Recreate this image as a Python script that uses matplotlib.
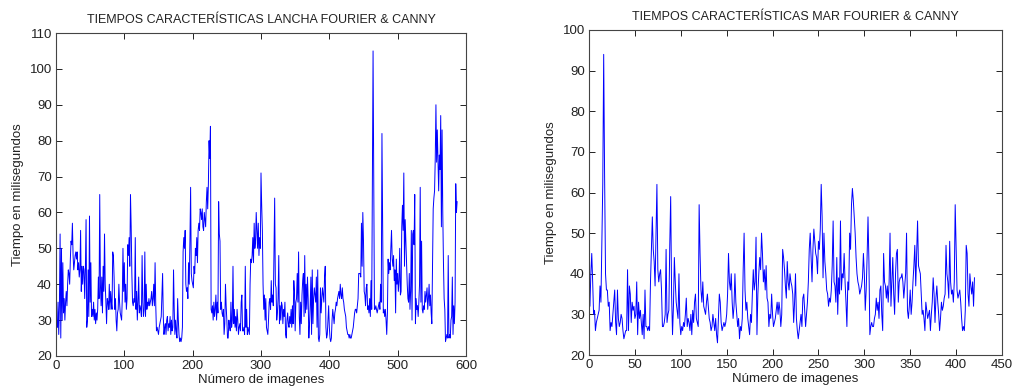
import matplotlib
matplotlib.use("Agg")
import matplotlib.pyplot as plt
import numpy as np

plt.rcParams['font.family'] = ['Liberation Sans', 'DejaVu Sans']

lancha_ms = [
    27, 30, 28, 35, 26, 34, 54, 25, 50, 30,
    46, 32, 36, 30, 35, 38, 34, 40, 44, 43,
    40, 47, 52, 51, 57, 48, 44, 46, 48, 49,
    47, 49, 44, 46, 42, 44, 55, 38, 45, 40,
    45, 44, 36, 44, 58, 28, 30, 44, 31, 59,
    35, 46, 31, 33, 31, 35, 30, 33, 29, 32,
    30, 33, 42, 36, 65, 40, 34, 42, 32, 45,
    38, 54, 40, 35, 29, 36, 35, 33, 40, 33,
    38, 35, 33, 49, 48, 42, 33, 36, 30, 27,
    32, 33, 40, 35, 32, 31, 30, 36, 50, 38,
    46, 35, 40, 33, 36, 51, 48, 53, 45, 65,
    56, 43, 35, 34, 36, 35, 53, 33, 38, 30,
    35, 42, 32, 34, 33, 31, 48, 35, 31, 33,
    49, 31, 40, 33, 35, 34, 36, 34, 35, 36,
    38, 34, 36, 40, 34, 46, 34, 27, 28, 27,
    26, 28, 29, 30, 31, 37, 43, 31, 26, 28,
    29, 26, 30, 31, 27, 29, 28, 31, 26, 30,
    27, 28, 44, 33, 26, 30, 27, 25, 36, 30,
    26, 24, 25, 24, 25, 28, 49, 53, 50, 55,
    40, 38, 39, 36, 46, 40, 52, 67, 43, 41,
    40, 39, 45, 43, 50, 48, 53, 46, 55, 57,
    55, 61, 60, 58, 61, 56, 55, 60, 58, 56,
    63, 67, 61, 68, 80, 75, 84, 33, 32, 34,
    30, 35, 31, 33, 37, 30, 35, 32, 63, 54,
    52, 33, 35, 32, 31, 33, 26, 29, 40, 34,
    30, 25, 25, 30, 28, 27, 35, 28, 30, 45,
    29, 33, 28, 31, 27, 33, 30, 26, 28, 29,
    27, 35, 37, 27, 27, 28, 26, 45, 28, 33,
    26, 28, 27, 26, 40, 47, 46, 48, 53, 46,
    57, 50, 52, 60, 55, 50, 57, 48, 53, 50,
    71, 62, 55, 40, 33, 37, 30, 36, 28, 27,
    26, 30, 35, 36, 33, 41, 35, 37, 34, 49,
    64, 40, 39, 30, 32, 36, 48, 29, 34, 30,
    35, 34, 29, 33, 31, 35, 26, 25, 30, 32,
    29, 28, 31, 29, 33, 28, 34, 29, 41, 38,
    27, 35, 36, 43, 35, 49, 31, 26, 35, 29,
    37, 41, 43, 31, 48, 32, 40, 33, 42, 36,
    25, 29, 34, 42, 26, 44, 29, 36, 39, 37,
    35, 42, 28, 44, 25, 24, 26, 39, 32, 36,
    39, 37, 35, 42, 45, 28, 25, 26, 30, 34,
    28, 25, 24, 25, 30, 33, 31, 29, 32, 33,
    35, 34, 36, 37, 38, 36, 40, 37, 36, 39,
    36, 35, 33, 32, 31, 28, 27, 26, 26, 25,
    26, 25, 25, 26, 27, 28, 30, 32, 33, 33,
    32, 34, 36, 43, 43, 43, 42, 57, 45, 60,
    52, 38, 37, 34, 39, 40, 33, 34, 32, 36,
    31, 41, 33, 72, 105, 69, 33, 33, 34, 33,
    32, 33, 34, 35, 33, 40, 35, 82, 56, 32,
    33, 31, 33, 30, 26, 32, 47, 43, 46, 44,
    50, 55, 47, 45, 48, 41, 44, 32, 47, 40,
    43, 38, 41, 50, 37, 38, 56, 62, 55, 71,
    45, 58, 52, 46, 40, 36, 35, 43, 33, 38,
    55, 30, 54, 55, 51, 65, 29, 36, 33, 34,
    31, 35, 40, 67, 35, 52, 33, 32, 34, 33,
    38, 35, 37, 39, 33, 36, 40, 34, 37, 32,
    29, 45, 61, 64, 66, 75, 90, 74, 83, 74,
    66, 76, 72, 87, 56, 83, 60, 46, 36, 33,
    24, 25, 26, 25, 48, 25, 26, 25, 30, 31,
    42, 26, 34, 29, 35, 68, 60, 63,
]

mar_ms = [
    36, 32, 40, 45, 38, 30, 31, 26, 28, 29,
    30, 31, 37, 33, 47, 62, 94, 64, 40, 36,
    36, 32, 33, 26, 28, 27, 30, 33, 36, 28,
    25, 36, 29, 27, 28, 30, 29, 26, 24, 25,
    26, 26, 41, 26, 37, 35, 28, 33, 31, 32,
    29, 30, 38, 25, 33, 29, 31, 28, 25, 30,
    24, 36, 27, 27, 26, 27, 26, 38, 46, 54,
    46, 43, 37, 50, 62, 41, 38, 40, 41, 36,
    27, 27, 28, 30, 46, 28, 30, 31, 47, 59,
    35, 25, 32, 44, 38, 33, 31, 29, 40, 28,
    25, 27, 26, 28, 27, 30, 34, 27, 29, 28,
    26, 30, 25, 31, 28, 33, 35, 29, 28, 27,
    57, 45, 36, 33, 38, 32, 31, 30, 33, 35,
    32, 29, 28, 26, 27, 30, 28, 26, 29, 25,
    23, 29, 35, 33, 28, 26, 27, 28, 27, 28,
    30, 35, 45, 38, 36, 40, 33, 29, 32, 40,
    33, 30, 27, 29, 24, 27, 26, 29, 41, 50,
    36, 31, 33, 29, 27, 25, 30, 28, 35, 41,
    36, 38, 49, 25, 35, 40, 44, 41, 50, 45,
    38, 41, 36, 42, 34, 33, 27, 30, 29, 35,
    30, 27, 28, 29, 31, 33, 30, 33, 31, 27,
    30, 46, 44, 41, 37, 34, 43, 38, 36, 40,
    38, 37, 35, 28, 33, 40, 29, 26, 24, 26,
    28, 30, 27, 34, 35, 31, 27, 30, 33, 38,
    46, 50, 44, 38, 46, 51, 48, 45, 44, 40,
    48, 46, 51, 62, 54, 39, 50, 43, 40, 36,
    35, 32, 34, 33, 36, 42, 53, 38, 37, 33,
    44, 30, 39, 35, 53, 36, 40, 39, 45, 38,
    33, 27, 38, 36, 50, 46, 57, 61, 58, 54,
    50, 44, 40, 38, 37, 35, 36, 37, 39, 45,
    40, 31, 36, 44, 54, 43, 25, 27, 28, 27,
    27, 29, 30, 34, 31, 33, 29, 36, 37, 30,
    26, 45, 38, 37, 34, 37, 33, 38, 50, 32,
    38, 44, 35, 30, 40, 45, 46, 33, 38, 39,
    39, 40, 38, 34, 37, 40, 50, 31, 29, 32,
    36, 30, 33, 38, 42, 47, 37, 45, 53, 42,
    41, 40, 35, 30, 31, 29, 26, 33, 31, 29,
    30, 31, 26, 30, 33, 39, 35, 28, 34, 37,
    33, 30, 26, 29, 33, 31, 32, 34, 35, 47,
    40, 38, 34, 48, 38, 35, 36, 33, 38, 57,
    46, 36, 34, 35, 36, 33, 29, 26, 27, 26,
    31, 47, 45, 35, 32, 40, 37, 35, 38, 32,
    39,
]

titles = ["TIEMPOS CARACTERÍSTICAS LANCHA FOURIER & CANNY",
          "TIEMPOS CARACTERÍSTICAS MAR FOURIER & CANNY"]
xlabel = "Número de imagenes"
ylabel = "Tiempo en milisegundos"

fig = plt.figure(figsize=(10.18, 3.89), dpi=100)
ax1 = fig.add_axes([56/1018, 33/389, 410/1018, 323/389])
ax2 = fig.add_axes([589/1018, 34/389, 413/1018, 325/389])

specs = [
    (ax1, lancha_ms, titles[0], (0, 600), np.arange(0, 601, 100), (20, 110), np.arange(20, 111, 10)),
    (ax2, mar_ms, titles[1], (0, 450), np.arange(0, 451, 50), (20, 100), np.arange(20, 101, 10)),
]

for ax, data, title, xl, xt, yl, yt in specs:
    ax.plot(np.arange(len(data)), data, color=(0, 0, 1), lw=0.7)
    ax.set_xlim(*xl)
    ax.set_ylim(*yl)
    ax.set_xticks(xt)
    ax.set_yticks(yt)
    ax.tick_params(direction='in', top=True, right=True, length=4, width=0.7,
                   labelsize=9.5, colors='#222222', pad=3)
    for s in ax.spines.values():
        s.set_color('#444444')
        s.set_linewidth(0.8)
    ax.set_title(title, fontsize=9, color='#222222', pad=7)
    ax.set_xlabel(xlabel, fontsize=9.5, color='#222222', labelpad=1)
    ax.set_ylabel(ylabel, fontsize=9.5, color='#222222', labelpad=4)

fig.savefig("out.png", dpi=100)
